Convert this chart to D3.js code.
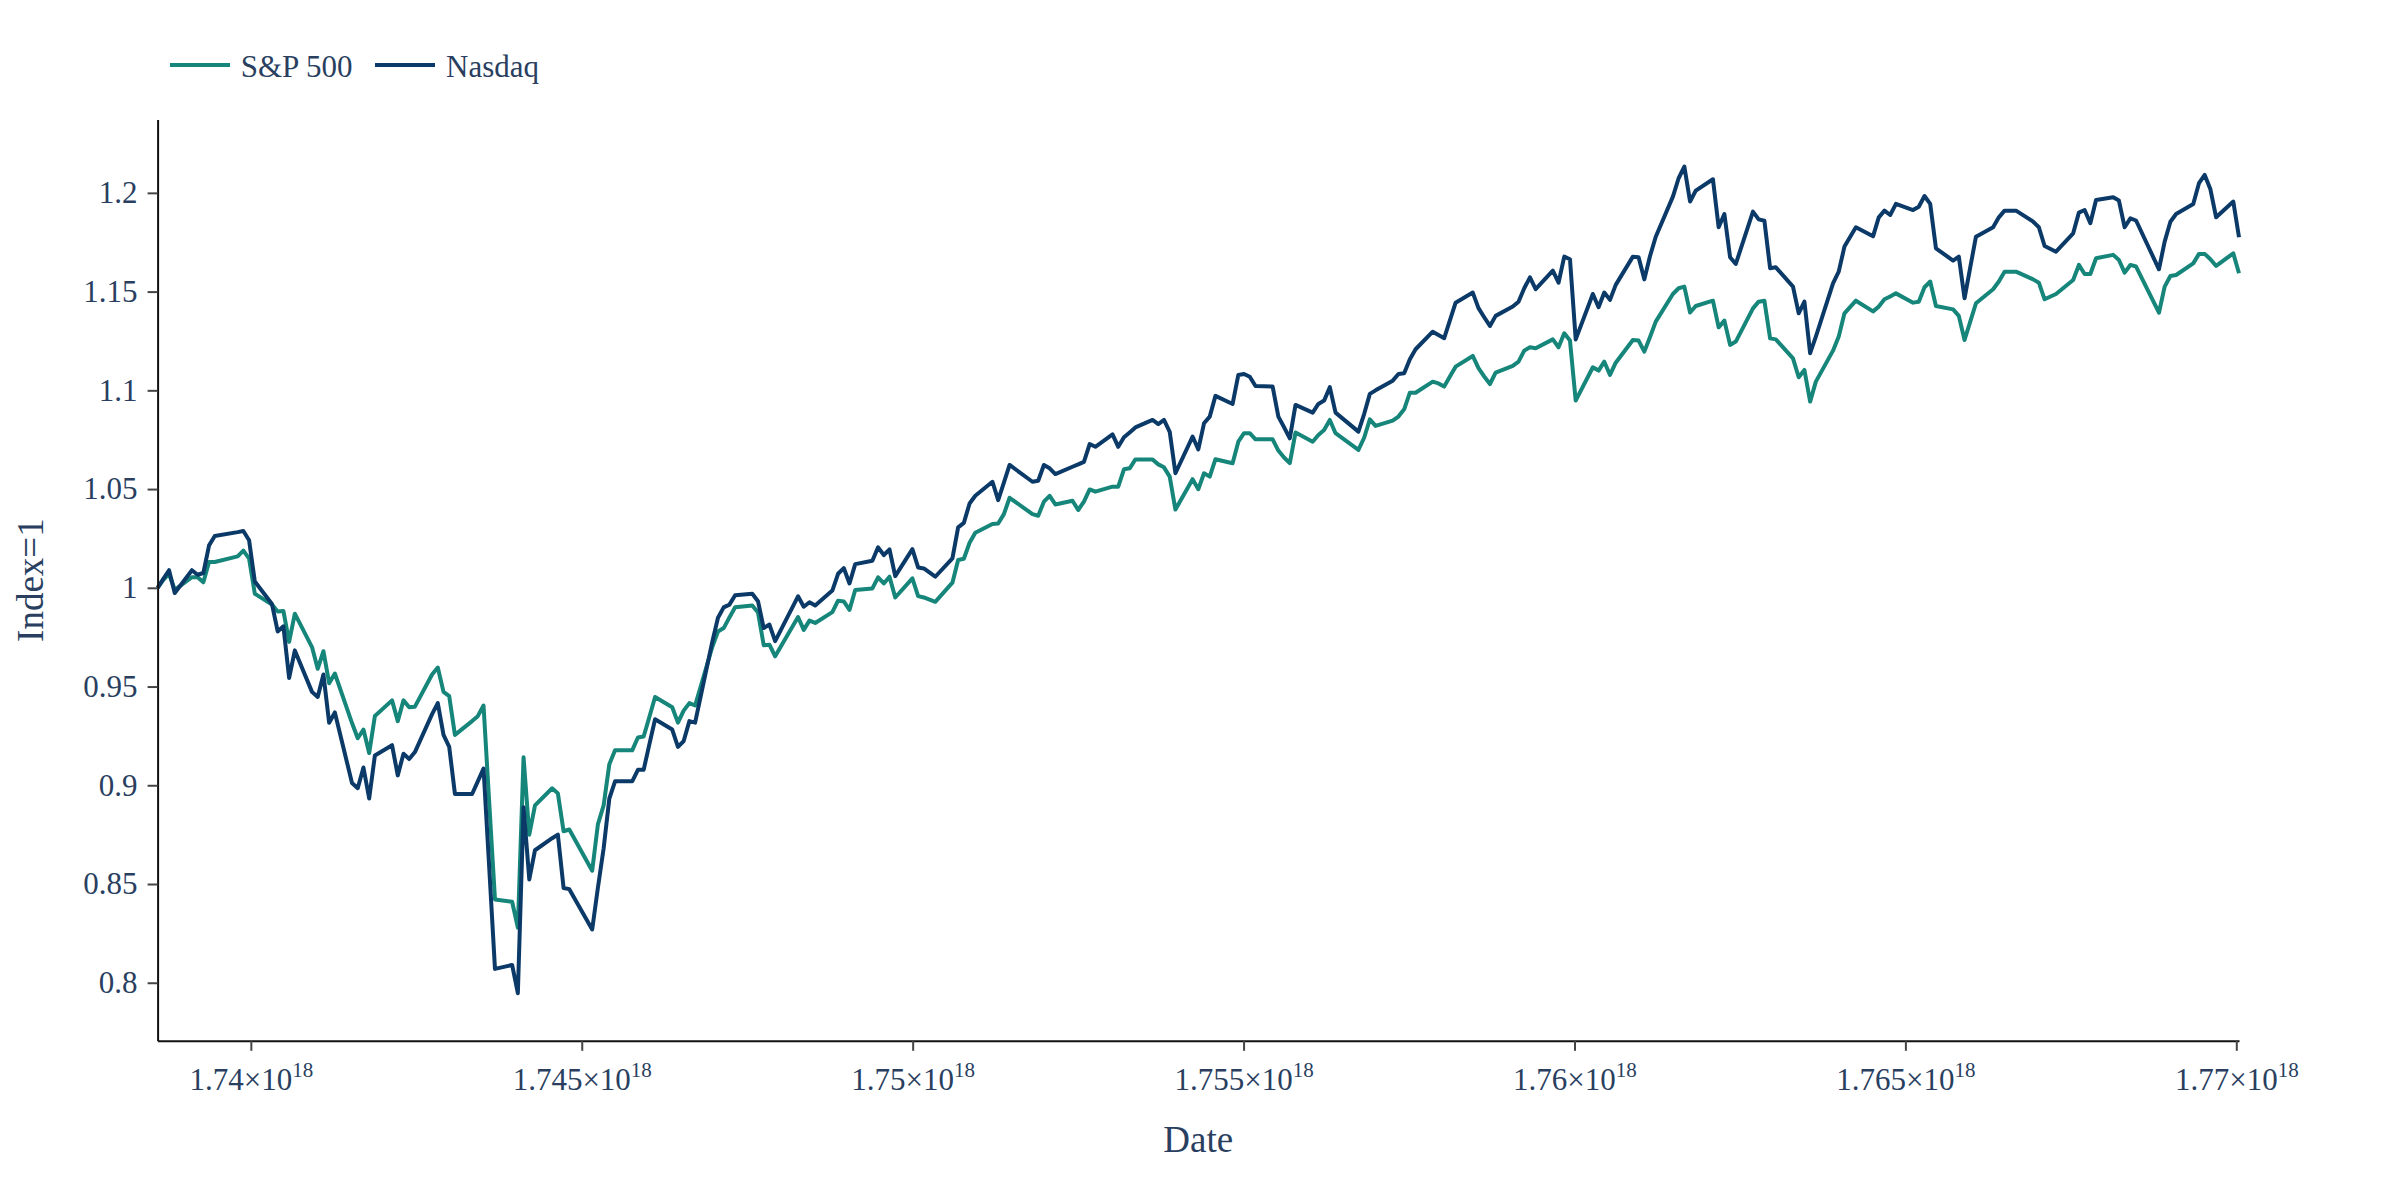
<!DOCTYPE html>
<html>
<head>
<meta charset="utf-8">
<script src="https://cdn.jsdelivr.net/npm/d3@7"></script>
<style>
  html, body { margin: 0; padding: 0; background: #ffffff; }
  svg { display: block; }
  text { font-family: "Liberation Serif", "Times New Roman", serif; fill: #2a3f5f; }
</style>
</head>
<body>
<svg id="chart" width="2400" height="1200"></svg>
<script>
// ---------------- data ----------------
const startDate = "2025-02-04T00:00:00+10:00";   // first trading day
const seriesNames = ["S&P 500", "Nasdaq"];
// trading-day offsets (calendar days after startDate)
const dayOffsets = [
  0,1,2,3,6,7,8,9,10,14,
  15,16,17,20,21,22,23,24,27,28,
  29,30,31,34,35,36,37,38,41,42,
  43,44,45,48,49,50,51,52,55,56,
  57,58,59,62,63,64,65,66,69,70,
  71,72,76,77,78,79,80,83,84,85,
  86,87,90,91,92,93,94,97,98,99,
  100,101,104,105,106,107,108,112,113,114,
  115,118,119,120,121,122,125,126,127,128,
  129,132,133,134,136,139,140,141,142,143,
  146,147,148,149,153,154,155,156,157,160,
  161,162,163,164,167,168,169,170,171,174,
  175,176,177,178,181,182,183,184,185,188,
  189,190,191,192,195,196,197,198,199,202,
  203,204,205,206,210,211,212,213,216,217,
  218,219,220,223,224,225,226,227,230,231,
  232,233,234,237,238,239,240,241,244,245,
  246,247,248,251,252,253,254,255,258,259,
  260,261,262,265,266,267,268,269,272,273,
  274,275,276,279,280,281,282,283,286,287,
  288,289,290,293,294,295,297,300,301,302,
  303,304,307,308,309,310,311,314,315,316,
  317,318,321,322,323,325,328,329,330,332,
  335,336,337,338,339,342,343,344,345,346,
  350,351,352,353,356,357,358,359,360,363,364
];
const spValues = [
  1.000,1.004,1.007,0.999,1.0054,1.0054,1.0028,1.0131,1.0131,1.0159,
  1.0188,1.0148,0.9970,0.9915,0.9880,0.9883,0.9726,0.9869,0.9700,0.9590,
  0.9679,0.9517,0.9566,0.9315,0.9238,0.9282,0.9163,0.9351,0.9430,0.9325,
  0.9430,0.9395,0.9398,0.9561,0.9596,0.9473,0.9451,0.9255,0.9325,0.9350,
  0.9404,0.8910,0.8422,0.8410,0.8279,0.9142,0.8750,0.8898,0.8985,0.8959,
  0.8767,0.8776,0.8567,0.8802,0.8898,0.9107,0.9177,0.9177,0.9242,0.9247,
  0.9346,0.9447,0.9395,0.9317,0.9378,0.9416,0.9404,0.9700,0.9779,0.9796,
  0.9850,0.9901,0.9910,0.9875,0.9709,0.9712,0.9653,0.9852,0.9787,0.9834,
  0.9822,0.9877,0.9935,0.9931,0.9888,0.9989,0.9997,1.0053,1.0022,1.0056,
  0.9951,1.0048,0.9958,0.9951,0.9929,1.0026,1.0141,1.0147,1.0228,1.0279,
  1.0323,1.0326,1.0373,1.0456,1.0373,1.0365,1.0436,1.0466,1.0422,1.0441,
  1.0394,1.0436,1.0498,1.0487,1.0512,1.0512,1.0600,1.0605,1.0650,1.0650,
  1.0625,1.0610,1.0563,1.0396,1.0550,1.0499,1.0580,1.0563,1.0651,1.0631,
  1.0740,1.0783,1.0783,1.0752,1.0752,1.0695,1.0660,1.0631,1.0786,1.0740,
  1.0774,1.0799,1.0850,1.0783,1.0698,1.0760,1.0853,1.0820,1.0847,1.0867,
  1.0904,1.0988,1.0988,1.1044,1.1035,1.1019,1.1070,1.1120,1.1174,1.1112,
  1.1070,1.1032,1.1090,1.1124,1.1145,1.1201,1.1218,1.1213,1.1258,1.1218,
  1.1289,1.1252,1.0948,1.1117,1.1100,1.1145,1.1078,1.1140,1.1255,1.1252,
  1.1196,1.1270,1.1348,1.1488,1.1517,1.1525,1.1394,1.1427,1.1454,1.1319,
  1.1353,1.1230,1.1247,1.1415,1.1449,1.1454,1.1263,1.1258,1.1162,1.1066,
  1.1103,1.0943,1.1044,1.1201,1.1272,1.1390,1.1454,1.1400,1.1424,1.1461,
  1.1475,1.1491,1.1444,1.1449,1.1522,1.1551,1.1427,1.1410,1.1377,1.1255,
  1.1348,1.1441,1.1512,1.1551,1.1601,1.1601,1.1562,1.1545,1.1461,1.1488,
  1.1559,1.1635,1.1589,1.1589,1.1669,1.1686,1.1660,1.1596,1.1635,1.1627,
  1.1393,1.1525,1.1579,1.1584,1.1643,1.1691,1.1691,1.1664,1.1630,1.1694,1.1593
];
const ndValues = [
  1.000,1.0045,1.0089,0.9974,1.0089,1.0066,1.0075,1.0215,1.0262,1.0282,
  1.0288,1.0241,1.0032,0.9918,0.9779,0.9805,0.9543,0.9683,0.9473,0.9447,
  0.9561,0.9317,0.9369,0.9011,0.8985,0.9090,0.8933,0.9151,0.9203,0.9050,
  0.9160,0.9133,0.9168,0.9360,0.9416,0.9255,0.9194,0.8956,0.8956,0.9020,
  0.9085,0.8580,0.8070,0.8090,0.7947,0.8889,0.8523,0.8671,0.8732,0.8750,
  0.8480,0.8474,0.8270,0.8481,0.8680,0.8933,0.9020,0.9020,0.9078,0.9078,
  0.9207,0.9334,0.9282,0.9194,0.9224,0.9325,0.9317,0.9726,0.9848,0.9901,
  0.9915,0.9962,0.9970,0.9932,0.9796,0.9814,0.9730,0.9957,0.9904,0.9927,
  0.9910,0.9986,1.0071,1.0100,1.0022,1.0120,1.0137,1.0205,1.0166,1.0194,
  1.0059,1.0196,1.0103,1.0098,1.0056,1.0149,1.0306,1.0329,1.0427,1.0466,
  1.0537,1.0444,1.0532,1.0622,1.0537,1.0542,1.0622,1.0605,1.0576,1.0613,
  1.0625,1.0638,1.0728,1.0714,1.0777,1.0714,1.0762,1.0787,1.0812,1.0850,
  1.0829,1.0850,1.0790,1.0580,1.0766,1.0701,1.0833,1.0867,1.0972,1.0931,
  1.1078,1.1083,1.1069,1.1022,1.1019,1.0867,1.0813,1.0757,1.0926,1.0887,
  1.0931,1.0948,1.1016,1.0887,1.0791,1.0880,1.0982,1.1000,1.1049,1.1083,
  1.1086,1.1157,1.1208,1.1297,1.1280,1.1264,1.1354,1.1444,1.1495,1.1416,
  1.1370,1.1326,1.1377,1.1424,1.1449,1.1517,1.1572,1.1512,1.1606,1.1545,
  1.1677,1.1664,1.1258,1.1488,1.1421,1.1495,1.1458,1.1534,1.1677,1.1674,
  1.1562,1.1680,1.1778,1.1981,1.2074,1.2133,1.1956,1.2011,1.2069,1.1826,
  1.1893,1.1674,1.1640,1.1905,1.1866,1.1859,1.1618,1.1623,1.1525,1.1390,
  1.1449,1.1188,1.1272,1.1542,1.1601,1.1728,1.1826,1.1780,1.1876,1.1910,
  1.1888,1.1944,1.1913,1.1930,1.1984,1.1944,1.1719,1.1657,1.1677,1.1466,
  1.1623,1.1778,1.1826,1.1876,1.1910,1.1910,1.1854,1.1826,1.1731,1.1702,
  1.1795,1.1900,1.1913,1.1846,1.1964,1.1978,1.1961,1.1826,1.1871,1.1860,
  1.1613,1.1753,1.1854,1.1893,1.1944,1.2049,1.2091,1.2018,1.1876,1.1956,1.1775
];
const yTickValues = [0.8, 0.85, 0.9, 0.95, 1, 1.05, 1.1, 1.15, 1.2];
const xTickMantissas = [1.74, 1.745, 1.75, 1.755, 1.76, 1.765, 1.77];
const xTickExponent = 18;
const xTitle = "Date";
const yTitle = "Index=1";
const colors = ["#16857a", "#0b3a68"];

// ---------------- layout ----------------
const W = 2400, H = 1200;
const plot = { left: 157.6, right: 2239, top: 119.4, bottom: 1040.8 };
const yDomain = [0.7706, 1.2372];
const textColor = "#2a3f5f";

const svg = d3.select("#chart");
svg.append("rect").attr("width", W).attr("height", H).attr("fill", "#ffffff");

const startMs = Date.parse(startDate);
const xNs = dayOffsets.map(d => (startMs + d * 86400000) * 1e6);

const x = d3.scaleLinear().domain(d3.extent(xNs)).range([plot.left, plot.right]);
const y = d3.scaleLinear().domain(yDomain).range([plot.bottom, plot.top]);

const series = [
  { name: seriesNames[0], values: spValues, color: colors[0] },
  { name: seriesNames[1], values: ndValues, color: colors[1] }
];

// lines
const line = d3.line().x((d, i) => x(xNs[i])).y(d => y(d));
svg.append("g").selectAll("path")
  .data(series)
  .join("path")
  .attr("fill", "none")
  .attr("stroke", s => s.color)
  .attr("stroke-width", 4)
  .attr("stroke-linejoin", "round")
  .attr("d", s => line(s.values));

// y axis
const yAxis = d3.axisLeft(y)
  .tickValues(yTickValues)
  .tickFormat(d3.format("~g"))
  .tickSize(10)
  .tickSizeOuter(0)
  .tickPadding(10);
const gy = svg.append("g").attr("transform", `translate(${plot.left},0)`).call(yAxis);
gy.select(".domain").attr("stroke", "#111").attr("stroke-width", 2);
gy.selectAll(".tick line").attr("stroke", "#444").attr("stroke-width", 2);
gy.selectAll(".tick text")
  .attr("font-family", "Liberation Serif, Times New Roman, serif")
  .attr("font-size", 31).attr("fill", textColor);

// x axis
const xTickValues = xTickMantissas.map(m => m * Math.pow(10, xTickExponent));
const xAxis = d3.axisBottom(x)
  .tickValues(xTickValues)
  .tickSize(10)
  .tickSizeOuter(0)
  .tickPadding(10)
  .tickFormat("");
const gx = svg.append("g").attr("transform", `translate(0,${plot.bottom})`).call(xAxis);
gx.select(".domain").attr("stroke", "#111").attr("stroke-width", 2);
gx.selectAll(".tick line").attr("stroke", "#444").attr("stroke-width", 2);
gx.selectAll(".tick text").remove();
gx.selectAll(".tick").each(function(d, i) {
  const t = d3.select(this).append("text")
    .attr("y", 49)
    .attr("text-anchor", "middle")
    .attr("font-family", "Liberation Serif, Times New Roman, serif")
    .attr("font-size", 31)
    .attr("fill", textColor);
  t.append("tspan").text(d3.format("~g")(xTickMantissas[i]) + "\u00d710");
  t.append("tspan").attr("font-size", 21).attr("dy", -13).text(xTickExponent);
});

// axis titles
svg.append("text")
  .attr("x", (plot.left + plot.right) / 2)
  .attr("y", 1152)
  .attr("text-anchor", "middle")
  .attr("font-size", 37)
  .text(xTitle);
svg.append("text")
  .attr("transform", `translate(43,${(plot.top + plot.bottom) / 2}) rotate(-90)`)
  .attr("text-anchor", "middle")
  .attr("font-size", 37)
  .text(yTitle);

// legend
const legendItems = [
  { x: 170, textX: 240.7 },
  { x: 375, textX: 446 }
];
const lg = svg.append("g");
series.forEach((s, i) => {
  lg.append("line")
    .attr("x1", legendItems[i].x).attr("x2", legendItems[i].x + 60)
    .attr("y1", 65).attr("y2", 65)
    .attr("stroke", s.color).attr("stroke-width", 4);
  lg.append("text")
    .attr("x", legendItems[i].textX).attr("y", 77)
    .attr("font-size", 31)
    .text(s.name);
});
</script>
</body>
</html>
